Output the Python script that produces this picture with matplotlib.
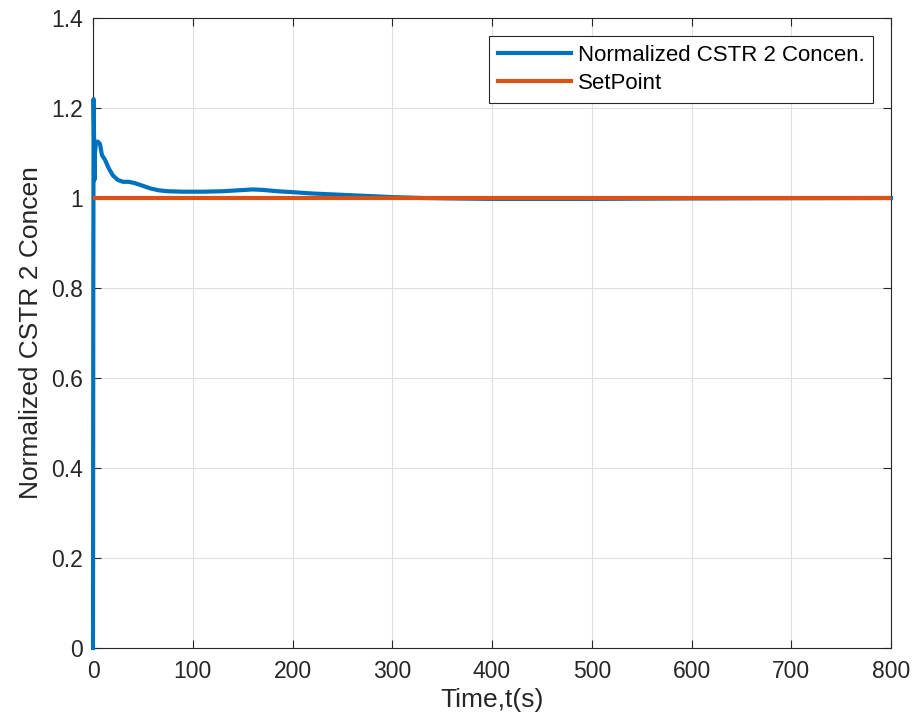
import matplotlib
matplotlib.use("Agg")
import matplotlib.pyplot as plt
import numpy as np

plt.rcParams['font.family'] = ['Liberation Sans', 'DejaVu Sans']

# Read-off response of normalized CSTR 2 concentration
time_s = [0, 0.3, 0.6, 1.0, 1.4, 2.0, 3.0, 5.0, 7.0, 9.0, 12, 16, 20, 25, 30, 36, 42,
          50, 58, 66, 75, 90, 110, 130, 145, 160, 170, 185, 200, 220, 250, 280, 300,
          330, 360, 400, 450, 500, 600, 700, 800]
conc = [0.0, 0.8, 1.22, 1.15, 1.04, 1.10, 1.125, 1.125, 1.12, 1.095, 1.085, 1.065, 1.05,
        1.04, 1.036, 1.036, 1.033, 1.027, 1.021, 1.017, 1.015, 1.014, 1.014, 1.015, 1.017,
        1.019, 1.018, 1.015, 1.013, 1.010, 1.007, 1.004, 1.002, 1.000, 0.999, 0.998,
        0.998, 0.998, 0.999, 0.9995, 1.0]
setpoint_t = [0, 800]
setpoint_v = [1.0, 1.0]

x_ticks = [0, 100, 200, 300, 400, 500, 600, 700, 800]
y_ticks = [0, 0.2, 0.4, 0.6, 0.8, 1.0, 1.2, 1.4]
y_tick_labels = ['0', '0.2', '0.4', '0.6', '0.8', '1', '1.2', '1.4']

fig = plt.figure(figsize=(9.15, 7.28), dpi=100)
ax = fig.add_axes([93/915, 1-648/728, (891-93)/915, (648-18)/728])

ax.plot(time_s, conc, color='#0072BD', lw=3.0, label='Normalized CSTR 2 Concen.',
        zorder=3, clip_on=False)
ax.plot(setpoint_t, setpoint_v, color='#D95319', lw=3.0, label='SetPoint', zorder=4)

ax.set_xlim(0, 800)
ax.set_ylim(0, 1.4)
ax.set_xticks(x_ticks)
ax.set_yticks(y_ticks)
ax.set_yticklabels(y_tick_labels)
ax.grid(True, color='#DFDFDF', lw=0.8)
ax.set_axisbelow(True)
ax.tick_params(direction='in', top=True, right=True, labelsize=16.5, length=6,
               color='#262626', labelcolor='#262626')
ax.tick_params(axis='y', pad=7)
ax.tick_params(axis='x', pad=9)
for s in ax.spines.values():
    s.set_color('#262626')
    s.set_linewidth(0.8)

ax.set_xlabel('Time,t(s)', fontsize=19, color='#262626', labelpad=3)
ax.set_ylabel('Normalized CSTR 2 Concen', fontsize=19, color='#262626', labelpad=6)

leg = ax.legend(loc='upper right', fontsize=16, fancybox=False, framealpha=1,
                edgecolor='#262626', borderaxespad=0.8, handlelength=3.3,
                handletextpad=0.3, borderpad=0.4, labelspacing=0.33)
leg.get_frame().set_linewidth(0.8)

fig.savefig('out.png', dpi=100)
